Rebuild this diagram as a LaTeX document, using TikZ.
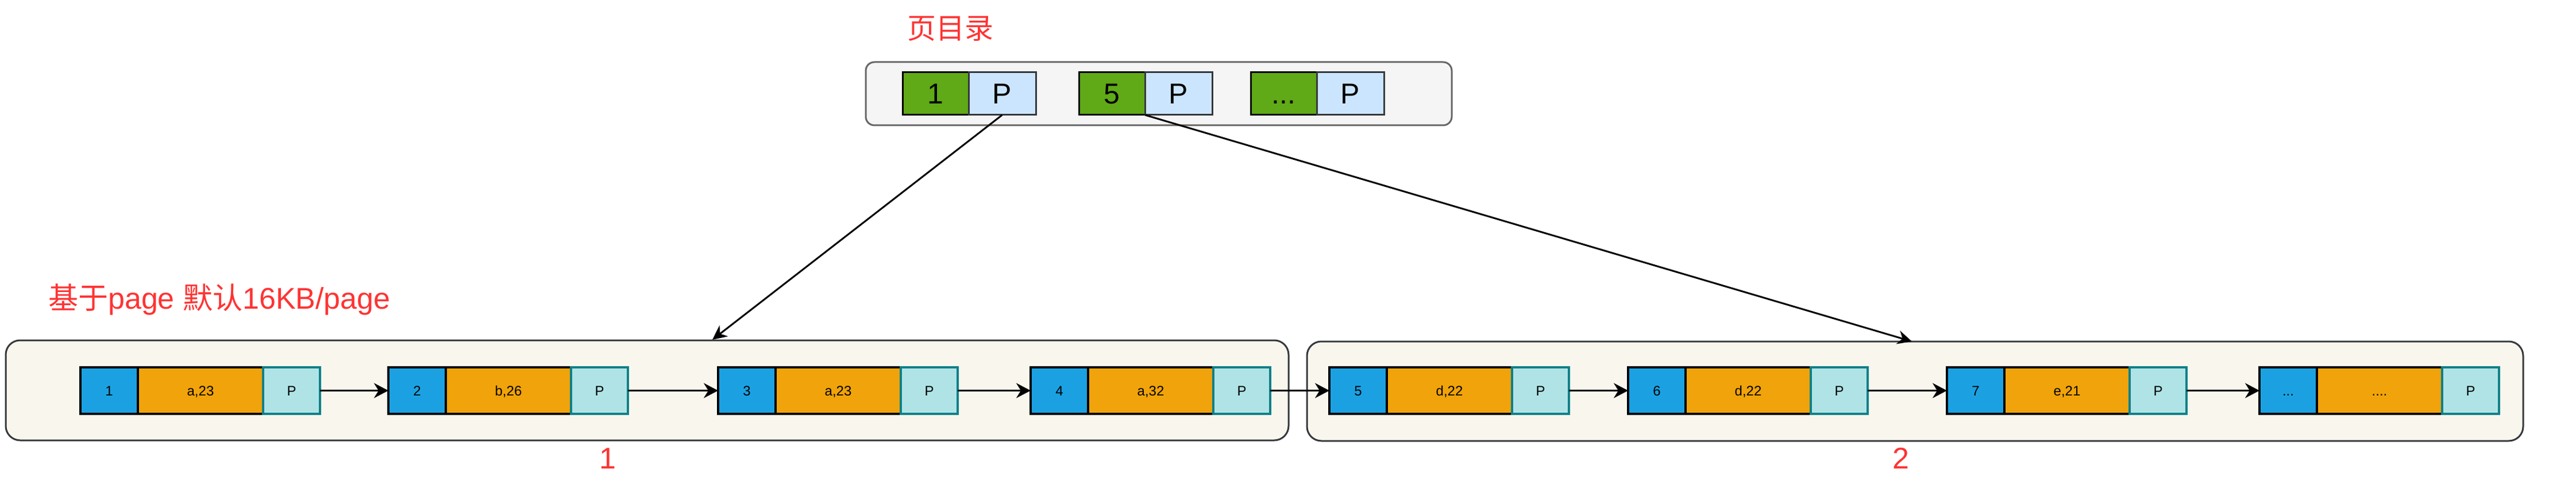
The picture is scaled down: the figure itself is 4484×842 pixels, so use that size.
\documentclass[tikz,border=0pt]{standalone}
\usepackage{fontspec}
\setmainfont{Liberation Sans}
\newfontfamily\cjk{Noto Sans CJK SC}
\usetikzlibrary{arrows.meta,positioning}
\definecolor{blueF}{HTML}{1BA1E2}
\definecolor{orangeF}{HTML}{F0A30A}
\definecolor{tealF}{HTML}{B0E3E6}
\definecolor{tealD}{HTML}{0E8088}
\definecolor{greenF}{HTML}{60A917}
\definecolor{dirP}{HTML}{CCE5FF}
\definecolor{darkS}{HTML}{36393D}
\definecolor{pageF}{HTML}{F9F7ED}
\definecolor{dirF}{HTML}{F5F5F5}
\definecolor{dirS}{HTML}{666666}
\definecolor{redT}{HTML}{FF3333}
\begin{document}
\begin{tikzpicture}[x=1pt,y=-1pt,
  cell/.style={line width=3.5pt, minimum height=81pt, inner sep=0pt, outer sep=0pt, anchor=west,
    font=\fontsize{24}{28}\selectfont, text height=17pt, text depth=0pt},
  kb/.style={cell, draw=black, fill=blueF, minimum width=100pt},
  vb/.style={cell, draw=black, fill=orangeF, minimum width=218pt},
  pb/.style={cell, draw=tealD, fill=tealF, minimum width=99pt},
  dcell/.style={line width=3pt, minimum height=74pt, inner sep=0pt, outer sep=0pt, anchor=west,
    font=\fontsize{50}{56}\selectfont, text height=36pt, text depth=0pt},
  dg/.style={dcell, draw=black, fill=greenF, minimum width=115pt},
  dp/.style={dcell, draw=darkS, fill=dirP, minimum width=117pt},
  page/.style={draw=darkS, fill=pageF, line width=3pt, rounded corners=25pt, inner sep=0pt},
  arr/.style={line width=3.5pt, -{Stealth[length=25pt,width=26pt,inset=8pt]}},
  darr/.style={line width=3pt, -{Stealth[length=25pt,width=24pt,inset=8pt]}},
  red/.style={text=redT, inner sep=0pt, anchor=base}
]
\useasboundingbox (0,0) rectangle (4484,842);

% containers
\node[draw=dirS, fill=dirF, line width=3pt, rounded corners=15pt, minimum width=1020pt, minimum height=110pt] (dir) at (2017,163) {};
\node[page, minimum width=2233pt, minimum height=174pt] (c1) at (1126.5,679) {};
\node[page, minimum width=2117pt, minimum height=173pt] (c2) at (3333.5,680.5) {};

% titles
\node[red, font=\fontsize{50}{56}\selectfont\cjk] (tdir) at (1654,68) {页目录};
\node[red, anchor=base west, font=\fontsize{52}{60}\selectfont] (tpage) at (84,537) {{\cjk 基于}page {\cjk 默认}16KB/page};
\node[red, font=\fontsize{52}{60}\selectfont] (l1) at (1058,815) {1};
\node[red, font=\fontsize{52}{60}\selectfont] (l2) at (3309,815) {2};

% directory cells
\node[dg] (dg1) at (1571,163) {1};
\node[dp] (dp1) at (dg1.east) {P};
\node[dg] (dg5) at (1878,163) {5};
\node[dp] (dp5) at (dg5.east) {P};
\node[dg] (dg9) at (2177,163) {.\kern0pt.\kern0pt.};
\node[dp] (dp9) at (dg9.east) {P};

% records
\foreach \i/\x/\k/\v in {1/140/1/{a,23}, 2/676/2/{b,26}, 3/1250/3/{a,23}, 4/1794/4/{a,32},
                         5/2314/5/{d,22}, 6/2834/6/{d,22}, 7/3389/7/{e,21}}{
  \node[kb] (k\i) at (\x,679.5) {\k};
  \node[vb] (v\i) at (k\i.east) {\v};
  \node[pb] (p\i) at (v\i.east) {P};
}
\node[kb] (k8) at (3933,679.5) {.\kern0pt.\kern0pt.};
\node[vb] (v8) at (k8.east) {.\kern0pt.\kern0pt.\kern0pt.};
\node[pb] (p8) at (v8.east) {P};

% list arrows
\foreach \a/\b in {1/2,2/3,3/4,4/5,5/6,6/7,7/8}{
  \draw[arr] (p\a.east) -- (k\b.west);
}

% directory pointers
\coordinate (t1) at (1240,591);
\coordinate (t2) at (3328,594);
\draw[darr] (dp1.south) -- (t1);
\draw[darr] (dp5.south west) -- (t2);
\end{tikzpicture}
\end{document}
